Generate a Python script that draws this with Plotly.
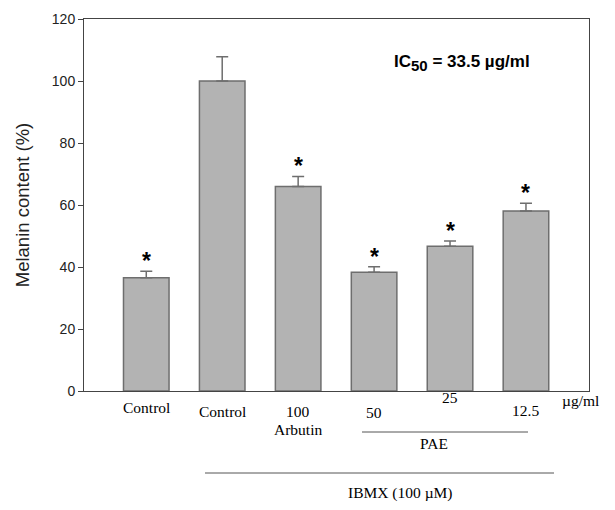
import plotly.graph_objects as go

categories = ["Control", "Control", "100", "50", "25", "12.5"]
values = [36.5, 100.0, 66.0, 38.3, 46.7, 58.1]
errors = [2.1, 7.8, 3.2, 1.8, 1.7, 2.5]
significant = [True, False, True, True, True, True]
y_ticks = [0, 20, 40, 60, 80, 100, 120]

x = list(range(len(categories)))

# plot area in pixels
L, R, T, B = 84, 26, 19, 119
W, H = 615, 510
PW, PH = W - L - R, H - T - B
XMIN, XMAX = -0.82, 5.83

def px(xp):
    return (xp - L) / PW

def py(yp):
    return (H - B - yp) / PH

SERIF = "Liberation Serif, Times New Roman"
SANS = "Liberation Sans, Arial"

fig = go.Figure()
fig.add_trace(go.Bar(
    x=x, y=values, width=0.6,
    marker=dict(color="#b3b3b3", line=dict(color="#6e6e6e", width=1.5)),
    error_y=dict(type="data", array=errors, symmetric=False, arrayminus=[0]*len(errors),
                 color="#6e6e6e", thickness=1.5, width=6),
    showlegend=False,
))

annotations = []
for i, (v, e, s) in enumerate(zip(values, errors, significant)):
    if s:
        annotations.append(dict(x=i, y=v + e, xref="x", yref="y", text="<b>*</b>",
                                showarrow=False, yanchor="bottom", yshift=-5,
                                font=dict(family=SANS, size=23, color="black")))

label_y = [407, 411, 411, 412, 397, 410]
for i, (c, ly) in enumerate(zip(categories, label_y)):
    annotations.append(dict(x=i, y=py(ly), xref="x", yref="paper", text=c, showarrow=False,
                            yanchor="middle", borderpad=0,
                            font=dict(family=SERIF, size=15.5, color="black")))

annotations += [
    dict(x=px(600), y=py(410), xref="paper", yref="paper", text="µg/ml", showarrow=False, borderpad=0,
         font=dict(family=SERIF, size=15.5, color="black")),
    dict(x=2, y=py(439), xref="x", yref="paper", text="Arbutin", showarrow=False, borderpad=0,
         font=dict(family=SERIF, size=15.5, color="black")),
    dict(x=px(449), y=py(453), xref="paper", yref="paper", text="PAE", showarrow=False, borderpad=0,
         font=dict(family=SERIF, size=15.5, color="black")),
    dict(x=px(400), y=py(503), xref="paper", yref="paper", text="IBMX (100 µM)", showarrow=False, borderpad=0,
         font=dict(family=SERIF, size=15.5, color="black")),
    dict(x=px(392), y=py(50), xref="paper", yref="paper", xanchor="left",
         text="<b>IC<sub><span style='font-size:15px'>50</span></sub> = 33.5 µg/ml</b>", showarrow=False,
         font=dict(family=SANS, size=17, color="black")),
]

shapes = [
    dict(type="line", xref="paper", yref="paper", x0=px(362), x1=px(528), y0=py(432), y1=py(432),
         line=dict(color="#555555", width=1)),
    dict(type="line", xref="paper", yref="paper", x0=px(205), x1=px(554), y0=py(473), y1=py(473),
         line=dict(color="#555555", width=1)),
]

fig.update_layout(
    width=W, height=H,
    margin=dict(l=L, r=R, t=T, b=B, pad=0),
    paper_bgcolor="white", plot_bgcolor="white",
    font=dict(family=SANS, size=14, color="black"),
    xaxis=dict(range=[XMIN, XMAX], showticklabels=False, ticks="", showgrid=False, zeroline=False,
               showline=True, linecolor="#444444", linewidth=1, mirror=True),
    yaxis=dict(range=[0, 120], tickvals=y_ticks, ticks="outside", ticklen=5, tickcolor="#444444",
               showgrid=False, zeroline=False, showline=True, linecolor="#444444", linewidth=1, mirror=True,
               title=dict(text="Melanin content (%)", font=dict(size=18.5, color="#222222"), standoff=17),
               tickfont=dict(size=14, color="#222222")),
    annotations=annotations,
    shapes=shapes,
    bargap=0.4,
)

fig.write_html("out.html")
